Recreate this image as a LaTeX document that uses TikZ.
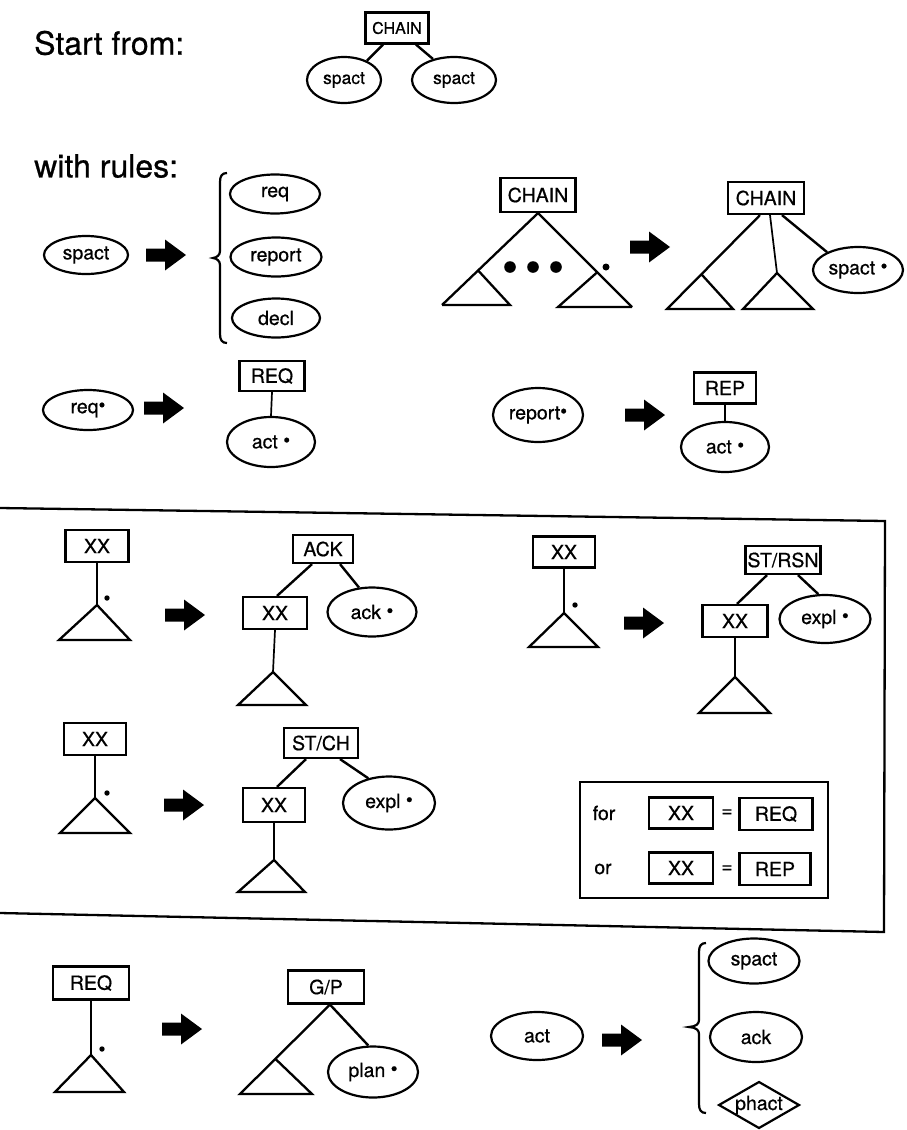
\documentclass[tikz,border=0pt]{standalone}
\usepackage{fontspec}
\setmainfont[FakeBold=0.6]{TeX Gyre Heros}
\usetikzlibrary{shapes.geometric,calc}
\newcommand{\stardot}{\raisebox{0.08em}{\textbullet}}
\begin{document}
\begin{tikzpicture}[x=1pt,y=-1pt,
  nfont/.style={font=\fontsize{19.5}{19.5}\selectfont},
  ell/.style={ellipse,draw,line width=2.2pt,inner sep=0pt,nfont},
  box/.style={rectangle,draw,line width=2.2pt,inner sep=0pt,nfont},
  link/.style={line width=2.4pt},
  stem/.style={line width=1.7pt},
  tri/.style={line width=2.3pt,line join=miter},
  brace/.style={line width=2.2pt},
  frame/.style={line width=2.3pt},
  fatarrow/.pic={\fill (-20,-6.5) -- (-1,-6.5) -- (-1,-15.5) -- (20,0) -- (-1,15.5) -- (-1,6.5) -- (-20,6.5) -- cycle;},
  title/.style={font=\fontsize{32}{32}\selectfont, anchor=west, inner sep=0pt}
]
\useasboundingbox (0,0) rectangle (907,1130);

% ---------- Start from ----------
\node[title] (start) at (34,43) {Start from:};
\node[box, minimum width=63pt, minimum height=31pt, font=\fontsize{16}{16}\selectfont] (c0) at (397,28) {CHAIN};
\node[ell, minimum width=74pt, minimum height=46pt, font=\fontsize{17.5}{17.5}\selectfont] (s0a) at (344,80) {spact};
\node[ell, minimum width=84pt, minimum height=46pt, font=\fontsize{17.5}{17.5}\selectfont] (s0b) at (454,80) {spact};
\draw[link] ([xshift=-14pt]c0.south) -- (s0a.40);
\draw[link] ([xshift=19pt]c0.south) -- (s0b.135);

% ---------- with rules ----------
\node[title] (rules) at (34,166) {with rules:};

% spact -> {req, report, decl}
\node[ell, minimum width=84pt, minimum height=38pt] (sp1) at (86,255) {spact};
\pic at (166,255) {fatarrow};
\draw[brace] (227,173) .. controls (222,173) and (220,176) .. (220,182) -- (220,251)
  .. controls (220,255) and (217,257.5) .. (213,258) .. controls (217,258.5) and (220,261) .. (220,265)
  -- (220,334) .. controls (220,340) and (222,343) .. (227,343);
\node[ell, minimum width=90pt, minimum height=39pt] (rq) at (275,194) {req};
\node[ell, minimum width=91pt, minimum height=39pt] (rp) at (276,257) {report};
\node[ell, minimum width=88pt, minimum height=39pt] (dc) at (276,318) {decl};

% CHAIN rule, left side
\node[box, minimum width=75pt, minimum height=34pt] (cl) at (538,195) {CHAIN};
\coordinate (clA) at (442,305);
\coordinate (clB) at (632,307);
\coordinate (clL) at ($(cl.south)!0.624!(clA)$);
\coordinate (clR) at ($(cl.south)!0.63!(clB)$);
\draw[tri] (clA) -- (cl.south) -- (clB);
\draw[tri] (clL) -- (510,305) -- (clA);
\draw[tri] (clR) -- (558,307) -- (clB);
\fill (510,267) circle (5.8pt) (533,267) circle (5.8pt) (556,267) circle (5.8pt);
\fill (606,267) circle (3.5pt);
\pic at (650,247) {fatarrow};

% CHAIN rule, right side
\node[box, minimum width=76pt, minimum height=32pt] (cr) at (766,198) {CHAIN};
\coordinate (crA) at (667,309);
\coordinate (crL) at ($([xshift=-6pt]cr.south)!0.63!(crA)$);
\coordinate (crM) at (777,273);
\node[ell, minimum width=90pt, minimum height=46pt] (spR) at (858,270) {spact \stardot};
\draw[tri] ([xshift=-6pt]cr.south) -- (crA) -- (733,309) -- (crL);
\draw[stem] ([xshift=4pt]cr.south) -- (crM);
\draw[tri] (crM) -- (743,309) -- (813,309) -- cycle;
\draw[link] ([xshift=16pt]cr.south) -- (spR.150);

% req* -> REQ / act*
\node[ell, minimum width=90pt, minimum height=40pt] (rqs) at (88,410) {req\stardot};
\pic at (164,408) {fatarrow};
\node[box, minimum width=65pt, minimum height=30pt] (REQa) at (272,376) {REQ};
\node[ell, minimum width=88pt, minimum height=50pt] (act1) at (271,442) {act \stardot};
\draw[stem] (REQa.south) -- (act1.north);

% report* -> REP / act*
\node[ell, minimum width=90pt, minimum height=54pt] (rps) at (538,415) {report\stardot};
\pic at (645,415) {fatarrow};
\node[box, minimum width=62pt, minimum height=31pt] (REPa) at (725,388) {REP};
\node[ell, minimum width=88pt, minimum height=50pt] (act2) at (725,447) {act \stardot};
\draw[stem] (REPa.south) -- (act2.north);

% ---------- framed block ----------
\draw[frame] (0,508) -- (885,521) -- (884,932) -- (0,913);

% XX -> ACK
\node[box, minimum width=63pt, minimum height=32pt] (xx1) at (97,546) {XX};
\coordinate (t1) at (97,605);
\draw[stem] (xx1.south) -- (t1);
\fill (107,598) circle (2.7pt);
\draw[tri] (t1) -- (59,640) -- (130,640) -- cycle;
\pic at (185,615) {fatarrow};
\node[box, minimum width=60pt, minimum height=28pt] (ack) at (323,549) {ACK};
\node[box, minimum width=64pt, minimum height=32pt] (xx2) at (275,613) {XX};
\node[ell, minimum width=89pt, minimum height=49pt] (acke) at (372,612) {ack \stardot};
\draw[link] ([xshift=-11pt]ack.south) -- ([xshift=2pt]xx2.north);
\draw[link] ([xshift=17pt]ack.south) -- (acke.118);
\coordinate (t2) at (273,672);
\draw[stem] (xx2.south) -- (t2);
\draw[tri] (t2) -- (238,705) -- (306,705) -- cycle;

% XX -> ST/RSN
\node[box, minimum width=62pt, minimum height=31pt] (xx3) at (564,552) {XX};
\coordinate (t3) at (564,613);
\draw[stem] (xx3.south) -- (t3);
\fill (575,605) circle (2.7pt);
\draw[tri] (t3) -- (529,647) -- (598,647) -- cycle;
\pic at (644,623) {fatarrow};
\node[box, minimum width=75pt, minimum height=28pt] (strsn) at (783,560) {ST/RSN};
\node[box, minimum width=65pt, minimum height=32pt] (xx4) at (735,621) {XX};
\node[ell, minimum width=91pt, minimum height=48pt] (expl1) at (825,619) {expl \stardot};
\draw[link] ([xshift=-16pt]strsn.south) -- ([xshift=2pt]xx4.north);
\draw[link] ([xshift=15pt]strsn.south) -- (expl1.105);
\coordinate (t4) at (735,677);
\draw[stem] (xx4.south) -- (t4);
\draw[tri] (t4) -- (699,713) -- (770,713) -- cycle;

% XX -> ST/CH
\node[box, minimum width=62pt, minimum height=32pt] (xx5) at (95,739) {XX};
\coordinate (t5) at (95,798);
\draw[stem] (xx5.south) -- (t5);
\fill (107,793) circle (2.7pt);
\draw[tri] (t5) -- (60,833) -- (130,833) -- cycle;
\pic at (184,805) {fatarrow};
\node[box, minimum width=74pt, minimum height=30pt] (stch) at (321,743) {ST/CH};
\node[box, minimum width=62pt, minimum height=34pt] (xx6) at (274,805) {XX};
\node[ell, minimum width=92pt, minimum height=53pt] (expl2) at (389,803) {expl \stardot};
\draw[link] ([xshift=-15pt]stch.south) -- ([xshift=3pt]xx6.north);
\draw[link] ([xshift=19pt]stch.south) -- (expl2.130);
\coordinate (t6) at (274,860);
\draw[stem] (xx6.south) -- (t6);
\draw[tri] (t6) -- (238,892) -- (305,892) -- cycle;

% legend
\draw[frame] (580,782) rectangle (828,898);
\node[nfont] (for) at (604,813) {for};
\node[nfont] (or) at (603,869) {or};
\node[box, minimum width=64pt, minimum height=31pt] (lx1) at (681,813) {XX};
\node[nfont] (eq1) at (727,813) {=};
\node[box, minimum width=73pt, minimum height=32pt] (lreq) at (776,814) {REQ};
\node[box, minimum width=64pt, minimum height=31pt] (lx2) at (681,868) {XX};
\node[nfont] (eq2) at (727,869) {=};
\node[box, minimum width=71pt, minimum height=32pt] (lrep) at (775,869) {REP};

% ---------- bottom ----------
\node[box, minimum width=76pt, minimum height=33pt] (REQb) at (91,983) {REQ};
\coordinate (t7) at (91,1055);
\draw[stem] (REQb.south) -- (t7);
\fill (102,1049) circle (2.7pt);
\draw[tri] (t7) -- (55,1092) -- (124,1092) -- cycle;
\pic at (182,1029) {fatarrow};
\node[box, minimum width=76pt, minimum height=33pt] (gp) at (326,987) {G/P};
\node[ell, minimum width=90pt, minimum height=51pt] (plan) at (373,1072) {plan \stardot};
\coordinate (gA) at (240,1094);
\coordinate (gL) at ($([xshift=4pt]gp.south)!0.607!(gA)$);
\draw[tri] ([xshift=4pt]gp.south) -- (gA) -- (312,1094) -- (gL);
\draw[link] ([xshift=4pt]gp.south) -- (plan.100);

\node[ell, minimum width=92pt, minimum height=48pt] (act3) at (537,1036) {act};
\pic at (622,1040) {fatarrow};
\draw[brace] (706,943) .. controls (701,943) and (699,946) .. (699,952) -- (699,1020)
  .. controls (699,1024) and (696,1026.5) .. (689,1027) .. controls (696,1027.5) and (699,1030) .. (699,1034)
  -- (699,1104) .. controls (699,1110) and (701,1113) .. (706,1113);
\node[ell, minimum width=91pt, minimum height=45pt] (sp3) at (754,961) {spact};
\node[ell, minimum width=92pt, minimum height=50pt] (ack3) at (756,1037) {ack};
\node[nfont, inner sep=0pt] (phact) at (759,1105) {phact};
\draw[line width=2.2pt] ([xshift=-40pt]phact.center) -- ([yshift=23pt]phact.center) -- ([xshift=40pt]phact.center) -- ([yshift=-23pt]phact.center) -- cycle;
\end{tikzpicture}
\end{document}
